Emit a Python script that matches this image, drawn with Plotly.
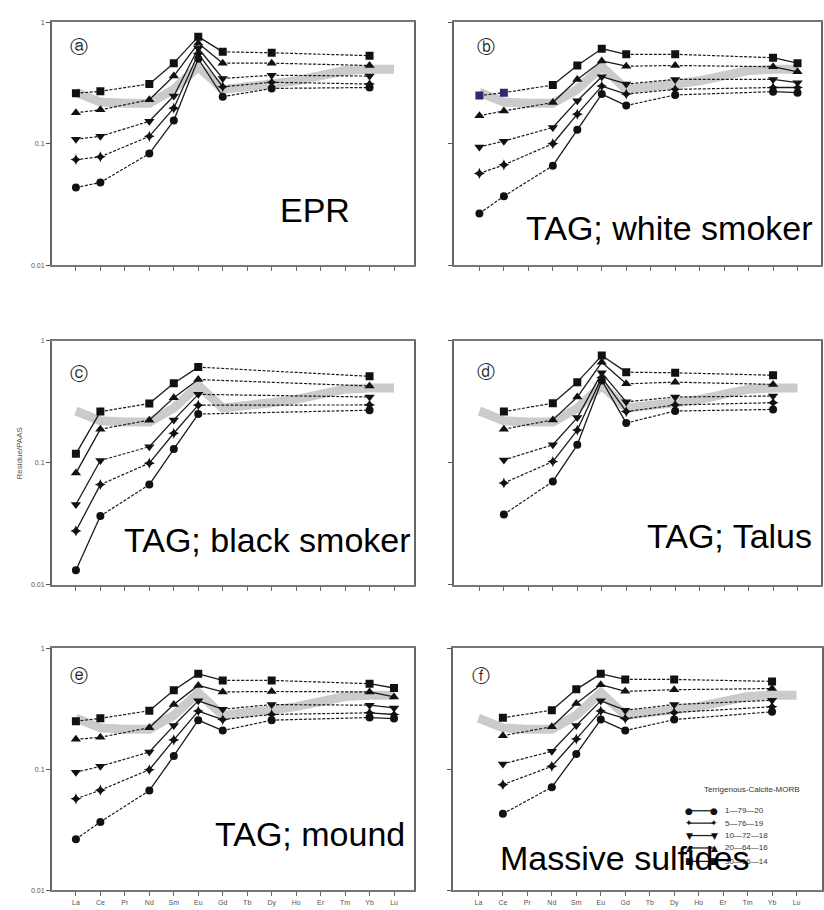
import plotly.graph_objects as go

# ---------------- data ----------------
elements = ['La', 'Ce', 'Pr', 'Nd', 'Sm', 'Eu', 'Gd', 'Tb', 'Dy', 'Ho', 'Er', 'Tm', 'Yb', 'Lu']
mix_labels = ['1\u201479\u201420', '5\u201476\u201419', '10\u201472\u201418', '20\u201464\u201416', '30\u201456\u201414']
legend_title = 'Terrigenous-Calcite-MORB'
y_ticks = [0.01, 0.1, 1]
y_ticktext = ['0.01', '0.1', '1']

# grey reference band (same in every panel)
band = [0.265, 0.22, 0.215, 0.215, 0.28, 0.43, 0.28, 0.29, 0.31, 0.33, 0.36, 0.40, 0.41, 0.41]

N = None
# (a) EPR
a_circle = [0.0436, 0.048, N, 0.083, 0.155, 0.50, 0.244, N, 0.285, N, N, N, 0.29, N]
a_star = [0.074, 0.078, N, 0.115, 0.196, 0.55, 0.294, N, 0.32, N, N, N, 0.31, N]
a_tridown = [0.109, 0.115, N, 0.153, 0.247, 0.61, 0.344, N, 0.366, N, N, N, 0.36, N]
a_triup = [0.18, 0.19, N, 0.23, 0.36, 0.67, 0.46, N, 0.46, N, N, N, 0.44, N]
a_square = [0.26, 0.27, N, 0.31, 0.46, 0.76, 0.57, N, 0.56, N, N, N, 0.53, N]
# (b) TAG; white smoker
b_circle = [0.0267, 0.037, N, 0.066, 0.130, 0.256, 0.206, N, 0.252, N, N, N, 0.268, 0.263]
b_star = [0.057, 0.067, N, 0.10, 0.175, 0.298, 0.256, N, 0.28, N, N, N, 0.29, 0.29]
b_tridown = [0.094, 0.105, N, 0.136, 0.226, 0.356, 0.31, N, 0.338, N, N, N, 0.338, 0.318]
b_triup = [0.17, 0.186, N, 0.218, 0.338, 0.48, 0.434, N, 0.44, N, N, N, 0.43, 0.39]
b_square = [0.249, 0.263, N, 0.304, 0.44, 0.605, 0.544, N, 0.544, N, N, N, 0.51, 0.46]
# (c) TAG; black smoker
c_circle = [0.0131, 0.0364, N, 0.066, 0.129, 0.25, N, N, N, N, N, N, 0.269, N]
c_star = [0.0275, 0.066, N, 0.099, 0.174, 0.296, N, N, N, N, N, N, 0.297, N]
c_tridown = [0.0453, 0.104, N, 0.135, 0.224, 0.363, N, N, N, N, N, N, 0.345, N]
c_triup = [0.082, 0.188, N, 0.223, 0.341, 0.48, N, N, N, N, N, N, 0.425, N]
c_square = [0.118, 0.262, N, 0.305, 0.447, 0.607, N, N, N, N, N, N, 0.51, N]
# (d) TAG; Talus
d_circle = [N, 0.0376, N, 0.070, 0.14, 0.472, 0.211, N, 0.265, N, N, N, 0.273, N]
d_star = [N, 0.068, N, 0.102, 0.185, 0.50, 0.262, N, 0.297, N, N, N, 0.31, N]
d_tridown = [N, 0.105, N, 0.14, 0.234, 0.545, 0.315, N, 0.345, N, N, N, 0.352, N]
d_triup = [N, 0.188, N, 0.224, 0.345, 0.665, 0.443, N, 0.457, N, N, N, 0.438, N]
d_square = [N, 0.262, N, 0.307, 0.457, 0.755, 0.552, N, 0.545, N, N, N, 0.521, N]
# (e) TAG; mound
e_circle = [0.0265, 0.0368, N, 0.0668, 0.129, 0.255, 0.209, N, 0.255, N, N, N, 0.268, 0.263]
e_star = [0.0571, 0.0673, N, 0.0993, 0.175, 0.303, 0.258, N, 0.284, N, N, N, 0.293, 0.284]
e_tridown = [0.0945, 0.106, N, 0.139, 0.23, 0.368, 0.314, N, 0.343, N, N, N, 0.339, 0.322]
e_triup = [0.177, 0.184, N, 0.221, 0.343, 0.494, 0.436, N, 0.44, N, N, N, 0.436, 0.397]
e_square = [0.25, 0.264, N, 0.305, 0.45, 0.615, 0.543, N, 0.543, N, N, N, 0.51, 0.47]
# (f) Massive sulfides
f_circle = [N, 0.043, N, 0.0712, 0.134, 0.258, 0.209, N, 0.258, N, N, N, 0.299, N]
f_star = [N, 0.0748, N, 0.106, 0.178, 0.303, 0.263, N, 0.295, N, N, N, 0.329, N]
f_tridown = [N, 0.111, N, 0.141, 0.23, 0.368, 0.308, N, 0.343, N, N, N, 0.372, N]
f_triup = [N, 0.19, N, 0.225, 0.35, 0.50, 0.441, N, 0.455, N, N, N, 0.465, N]
f_square = [N, 0.267, N, 0.308, 0.458, 0.615, 0.553, N, 0.553, N, N, N, 0.533, N]

# ---------------- styling ----------------
W, H = 824, 910
def fx(p):
    return p / W
def fy(p):
    return 1 - p / H

symbols = ['circle', 'star-diamond', 'triangle-down', 'triangle-up', 'square']
sizes = [8, 8, 9, 9, 8]
glyphs = ['\u25cf', '\u2726', '\u25bc', '\u25b2', '\u25a0']
base_solid = {(3, 4), (4, 5), (5, 6), (12, 13)}

panels = [
    dict(series=[a_circle, a_star, a_tridown, a_triup, a_square], xpx=(52, 415), ypx=(18.3, 263.3),
         label='EPR', lxy=(315, 208), circ='\u24d0', cxy=(79, 43), bottom=False, left=True, extra=set()),
    dict(series=[b_circle, b_star, b_tridown, b_triup, b_square], xpx=(455, 822), ypx=(18.3, 263.3),
         label='TAG; white smoker', lxy=(670, 226), circ='\u24d1', cxy=(487, 43), bottom=False, left=False, extra=set()),
    dict(series=[c_circle, c_star, c_tridown, c_triup, c_square], xpx=(52, 415), ypx=(339.3, 585),
         label='TAG; black smoker', lxy=(268, 540), circ='\u24d2', cxy=(79, 372), bottom=False, left=True, extra={(0, 1)}),
    dict(series=[d_circle, d_star, d_tridown, d_triup, d_square], xpx=(455, 822), ypx=(339.3, 585),
         label='TAG; Talus', lxy=(730, 536), circ='\u24d3', cxy=(487, 370), bottom=False, left=False, extra=set()),
    dict(series=[e_circle, e_star, e_tridown, e_triup, e_square], xpx=(52, 415), ypx=(649.3, 893.3),
         label='TAG; mound', lxy=(310, 836), circ='\u24d4', cxy=(79, 677), bottom=True, left=True, extra=set()),
    dict(series=[f_circle, f_star, f_tridown, f_triup, f_square], xpx=(454, 823), ypx=(649.3, 893.3),
         label='Massive sulfides', lxy=(625, 861), circ='\u24d5', cxy=(482, 677), bottom=True, left=False, extra=set()),
]

fig = go.Figure()
annotations = []
shapes = []
LINE_COL = '#1a1a1a'

for k, p in enumerate(panels):
    n = k + 1
    xa = 'x' if n == 1 else f'x{n}'
    ya = 'y' if n == 1 else f'y{n}'
    # grey band
    fig.add_trace(go.Scatter(x=list(range(len(elements))), y=band, mode='lines', xaxis=xa, yaxis=ya,
                             line=dict(color='#cbcbcb', width=9), hoverinfo='skip', showlegend=False))
    solid_pairs = base_solid | p['extra']
    for s, vals in enumerate(p['series']):
        idx = [i for i, v in enumerate(vals) if v is not None]
        sx, sy, dx, dy = [], [], [], []
        for a, b in zip(idx, idx[1:]):
            if (a, b) in solid_pairs:
                sx += [a, b, None]; sy += [vals[a], vals[b], None]
            else:
                dx += [a, b, None]; dy += [vals[a], vals[b], None]
        fig.add_trace(go.Scatter(x=dx, y=dy, mode='lines', xaxis=xa, yaxis=ya, showlegend=False,
                                 line=dict(color=LINE_COL, width=1.2, dash='3px,1.6px')))
        fig.add_trace(go.Scatter(x=sx, y=sy, mode='lines', xaxis=xa, yaxis=ya, showlegend=False,
                                 line=dict(color=LINE_COL, width=1.3)))
        mcol = '#111111'
        if n == 2 and s == 4:
            mcol = ['#2b2b6e' if i < 2 else '#111111' for i in idx]
        fig.add_trace(go.Scatter(x=idx, y=[vals[i] for i in idx], mode='markers', xaxis=xa, yaxis=ya,
                                 showlegend=False,
                                 marker=dict(symbol=symbols[s], size=sizes[s], color=mcol,
                                             line=dict(width=0))))
    x0, x1 = p['xpx']
    y0, y1 = p['ypx']
    # x range so that La sits ~24.5 px inside the left frame
    step = 24.5
    inset = (76 - 52) if p['left'] else 25
    rng = [-inset / step, 12 + (x1 - (x0 + inset + 12 * step)) / step]
    fig.update_layout(**{
        ('xaxis' if n == 1 else f'xaxis{n}'): dict(
            domain=[fx(x0), fx(x1)], anchor=ya, range=rng,
            tickvals=list(range(len(elements))), ticktext=elements,
            showticklabels=p['bottom'], ticks='outside', ticklen=4, tickwidth=1, tickcolor='#666',
            tickfont=dict(family='Liberation Sans', size=7, color='#555'),
            showline=True, linecolor='#777777', linewidth=2, mirror=True,
            showgrid=False, zeroline=False),
        ('yaxis' if n == 1 else f'yaxis{n}'): dict(
            domain=[fy(y1), fy(y0)], anchor=xa, type='log', range=[-2, 0],
            tickvals=y_ticks, ticktext=y_ticktext, showticklabels=p['left'],
            ticks='outside', ticklen=4, tickwidth=1, tickcolor='#555',
            tickfont=dict(family='Liberation Sans', size=7, color='#555'),
            showline=True, linecolor='#666666', linewidth=2, mirror=True,
            showgrid=False, zeroline=False),
    })
    # circled panel letter
    annotations.append(dict(x=fx(p['cxy'][0]), y=fy(p['cxy'][1]), xref='paper', yref='paper',
                            text=p['circ'], showarrow=False, xanchor='center', yanchor='middle',
                            font=dict(family='DejaVu Sans', size=18, color='#222')))

# y-axis title
annotations.append(dict(x=fx(20), y=fy(453), xref='paper', yref='paper', text='Residue/PAAS',
                        textangle=-90, showarrow=False, xanchor='center', yanchor='middle',
                        font=dict(family='Liberation Sans', size=8, color='#555')))

# manual legend inside panel (f)
annotations.append(dict(x=fx(753), y=fy(792), xref='paper', yref='paper', text=legend_title,
                        showarrow=False, xanchor='center', yanchor='middle',
                        font=dict(family='Liberation Sans Narrow, Liberation Sans', size=8, color='#333')))
row_y = [813, 825.5, 838, 850.5, 864]
for i, lab in enumerate(mix_labels):
    yy = fy(row_y[i])
    shapes.append(dict(type='line', xref='paper', yref='paper', x0=fx(690), x1=fx(715), y0=yy, y1=yy,
                       line=dict(color='#222', width=1.3)))
    for xx in (690, 715):
        annotations.append(dict(x=fx(xx), y=yy, xref='paper', yref='paper', text=glyphs[i],
                                showarrow=False, xanchor='center', yanchor='middle',
                                font=dict(family='DejaVu Sans', size=9, color='#111')))
    annotations.append(dict(x=fx(724), y=yy, xref='paper', yref='paper', text=lab,
                            showarrow=False, xanchor='left', yanchor='middle',
                            font=dict(family='Liberation Sans', size=8, color='#333')))

# large panel captions (drawn last so they sit on top)
for p in panels:
    annotations.append(dict(x=fx(p['lxy'][0]), y=fy(p['lxy'][1]), xref='paper', yref='paper',
                            text=p['label'], showarrow=False, xanchor='center', yanchor='middle',
                            font=dict(family='Liberation Sans, Arial', size=34, color='#000')))

fig.update_layout(width=W, height=H, margin=dict(l=0, r=0, t=0, b=0),
                  paper_bgcolor='white', plot_bgcolor='white', showlegend=False,
                  annotations=annotations, shapes=shapes)

fig.write_html('out.html')
